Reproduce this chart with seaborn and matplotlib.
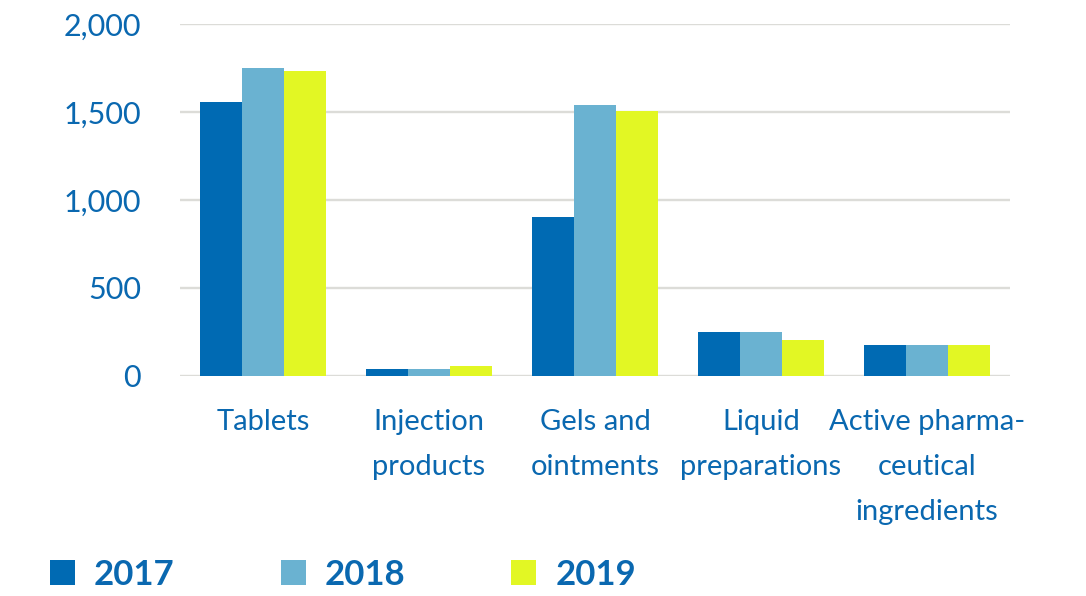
import matplotlib
matplotlib.use("Agg")
import matplotlib.pyplot as plt
from matplotlib.ticker import FuncFormatter
import seaborn as sns
import pandas as pd

# Product groups and yearly volumes
categories = ["Tablets", "Injection\nproducts", "Gels and\nointments",
              "Liquid\npreparations", "Active pharma-\nceutical\ningredients"]
years = ["2017", "2018", "2019"]
values_2017 = [1555, 38, 902, 248, 174]
values_2018 = [1748, 38, 1538, 248, 174]
values_2019 = [1731, 55, 1504, 203, 174]
y_ticks = [0, 500, 1000, 1500, 2000]

colors = ["#006ab3", "#6ab2d1", "#e2f724"]
text_color = "#0a68b0"
grid_color = "#dcdcd8"

rows = []
for year, vals in zip(years, [values_2017, values_2018, values_2019]):
    for cat, v in zip(categories, vals):
        rows.append({"category": cat, "year": year, "value": v})
df = pd.DataFrame(rows)

sns.set_theme(style="white")
plt.rcParams["font.family"] = ["Lato", "DejaVu Sans"]

fig = plt.figure(figsize=(10.86, 5.96), dpi=100)
ax = fig.add_axes([180 / 1086, 1 - 375.7 / 596, 830 / 1086, (375.7 - 24) / 596])

sns.barplot(data=df, x="category", y="value", hue="year", order=categories,
            hue_order=years, palette=colors, width=0.76, saturation=1,
            linewidth=0, ax=ax, zorder=3)

ax.set_xlim(-0.5, len(categories) - 0.5)
ax.set_ylim(0, 2000)
ax.set_yticks(y_ticks)
ax.yaxis.set_major_formatter(FuncFormatter(lambda v, _: f"{v:,.0f}"))
ax.grid(axis="y", color=grid_color, linewidth=1.7, zorder=0)
ax.set_axisbelow(True)
for s in ax.spines.values():
    s.set_visible(False)
ax.set_xlabel("")
ax.set_ylabel("")
ax.tick_params(axis="y", length=0, pad=28, labelsize=22, labelcolor=text_color)
ax.tick_params(axis="x", length=0, pad=24, labelsize=21, labelcolor=text_color)
for lbl in ax.get_xticklabels():
    lbl.set_linespacing(1.9)

handles, labels = ax.get_legend_handles_labels()
ax.get_legend().remove()
fig.legend(handles, labels, loc="center left",
           bbox_to_anchor=(50 / 1086, 21 / 596), ncol=3, frameon=False,
           prop={"family": ["Lato", "DejaVu Sans"], "weight": "bold", "size": 25},
           labelcolor=text_color, handlelength=0.72, handleheight=0.72,
           handletextpad=0.55, columnspacing=3.05, borderpad=0, borderaxespad=0)

fig.savefig("out.png", dpi=100)
